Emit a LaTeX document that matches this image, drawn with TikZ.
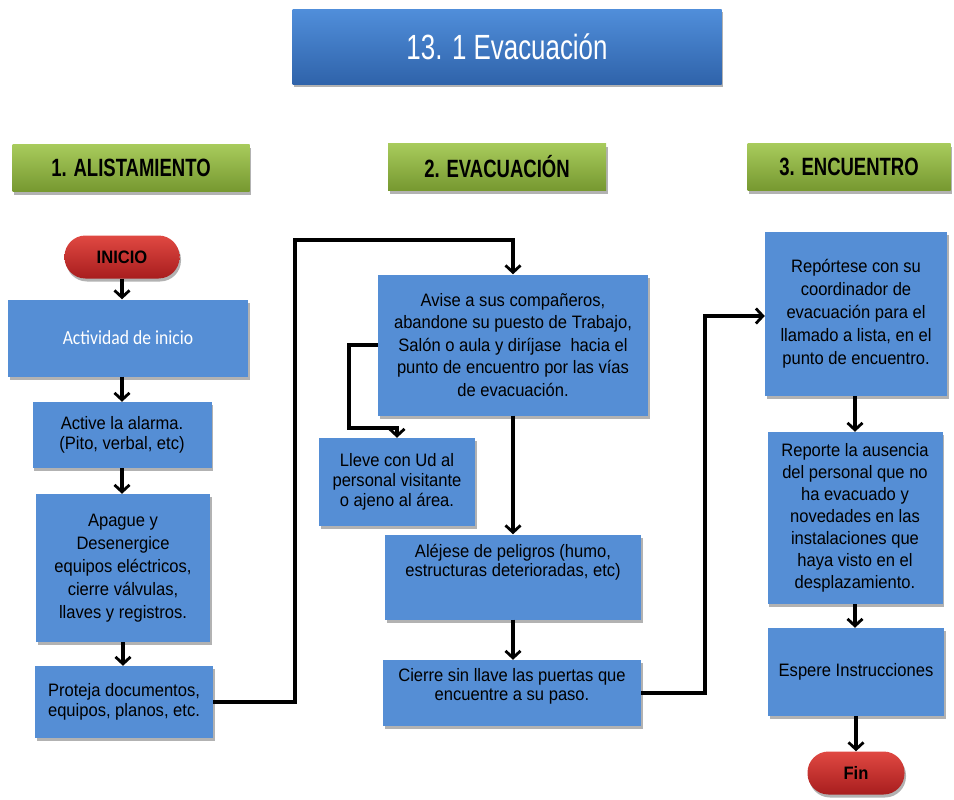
\documentclass[tikz,border=0pt]{standalone}
\usepackage{fontspec}
\setmainfont{Liberation Sans}[FakeStretch=0.92]
\newfontfamily\narrowfont{Liberation Sans}[FakeStretch=0.74]
\newfontfamily\calfont{Carlito}[FakeStretch=0.88]
\usepackage{tikz}
\usetikzlibrary{arrows.meta,shadows}

\definecolor{boxblue}{RGB}{85,142,213}
\definecolor{titletop}{RGB}{80,142,218}
\definecolor{titlebot}{RGB}{47,99,170}
\definecolor{greentop}{RGB}{168,203,92}
\definecolor{greenbot}{RGB}{118,152,48}
\definecolor{redtop}{RGB}{224,72,66}
\definecolor{redbot}{RGB}{168,30,30}

\begin{document}
\begin{tikzpicture}[
   x=1pt,y=-1pt,
   shade/.style={drop shadow={shadow xshift=1.5pt,shadow yshift=-3pt,fill=black!60,opacity=.5}},
   state/.style={shade,fill=boxblue,inner sep=2pt,align=center,
      font=\fontsize{18}{21.5}\selectfont},
   title/.style={shade,top color=titletop,bottom color=titlebot,text=white,
      minimum width=429pt,minimum height=75pt,font=\narrowfont\fontsize{35}{40}\selectfont},
   head/.style={shade,top color=greentop,bottom color=greenbot,minimum height=47pt,
      font=\narrowfont\bfseries\fontsize{25}{28}\selectfont},
   pill/.style={shade,rounded corners=21pt,top color=redtop,bottom color=redbot,
      minimum height=43pt,font=\bfseries\fontsize{18}{21}\selectfont},
   flow/.style={draw=black,line width=4pt,
      -{Straight Barb[length=7pt,width=15pt,line width=2.8pt]}}]
\useasboundingbox (0,0) rectangle (954,800);
% titles
\node[title] (titulo) at (507,47) {13. 1 Evacuación};
\node[head,minimum width=237pt] (alist) at (131,168) {1. ALISTAMIENTO};
\node[head,minimum width=218pt] (evac) at (497,167) {2. EVACUACIÓN};
\node[head,minimum width=203pt] (encu) at (849,167) {3. ENCUENTRO};
% 1. alistamiento
\node[pill,minimum width=115pt] (inicio) at (122,257) {INICIO};
\node[state,minimum width=240pt,minimum height=77pt,text=white,
   font=\calfont\fontsize{20}{24}\selectfont] (actividad) at (128,338) {Actividad de inicio};
\node[state,minimum width=179pt,minimum height=66pt,font=\fontsize{18}{20}\selectfont] (alarma) at (122,435)
   {Active la alarma.\\(Pito, verbal, etc)};
\node[state,minimum width=174pt,minimum height=148pt,font=\fontsize{18}{23}\selectfont] (apague) at (123,568)
   {Apague y\\Desenergice\\equipos eléctricos,\\cierre válvulas,\\llaves y registros.};
\node[state,minimum width=178pt,minimum height=72pt,font=\fontsize{18}{20}\selectfont] (proteja) at (124,702)
   {Proteja documentos,\\equipos, planos, etc.};
% 2. evacuacion
\node[state,minimum width=270pt,minimum height=141pt,font=\fontsize{18}{22.5}\selectfont] (avise) at (513,345)
   {Avise a sus compañeros,\\abandone su puesto de Trabajo,\\Salón o aula y diríjase\ \ hacia el\\punto de encuentro por las vías\\de evacuación.};
\node[state,minimum width=156pt,minimum height=88pt,font=\fontsize{18}{20}\selectfont] (lleve) at (397,482)
   {Lleve con Ud al\\personal visitante\\o ajeno al área.};
\node[state,minimum width=256pt,minimum height=85pt,font=\fontsize{18}{19}\selectfont] (alejese) at (513,577)
   {Aléjese de peligros (humo,\\estructuras deterioradas, etc)\\[8pt]\strut};
\node[state,minimum width=258pt,minimum height=66pt,font=\fontsize{18}{19}\selectfont] (cierre) at (512,693)
   {Cierre sin llave las puertas que\\encuentre a su paso.\\[-8pt]\strut};
% 3. encuentro
\node[state,minimum width=182pt,minimum height=164pt,font=\fontsize{18}{23}\selectfont] (reportese) at (856,314)
   {Repórtese con su\\coordinador de\\evacuación para el\\llamado a lista, en el\\punto de encuentro.};
\node[state,minimum width=175pt,minimum height=172pt,font=\fontsize{18}{22}\selectfont] (reporte) at (855,518)
   {Reporte la ausencia\\del personal que no\\ha evacuado y\\novedades en las\\instalaciones que\\haya visto en el\\desplazamiento.};
\node[state,minimum width=176pt,minimum height=88pt] (espere) at (856,672) {Espere Instrucciones};
\node[pill,minimum width=97pt] (fin) at (856,773) {Fin};
% bends
\coordinate (k1) at (295,240);
\coordinate (k2) at (349,428);
\coordinate (k3) at (705,316);
% connectors
\draw[flow] (inicio.south) -- (inicio.south |- actividad.north);
\draw[flow] (alarma.north |- actividad.south) -- (alarma.north);
\draw[flow] (alarma.south) -- (alarma.south |- apague.north);
\draw[flow] (apague.south) -- (apague.south |- proteja.north);
\draw[flow] (proteja.east) -| (k1) -| (avise.north);
\draw[flow] (avise.west) -| (k2) -| (lleve.north);
\draw[flow] (avise.south) -- (avise.south |- alejese.north);
\draw[flow] (alejese.south) -- (alejese.south |- cierre.north);
\draw[flow] (cierre.east) -| (k3) -- (k3 -| reportese.west);
\draw[flow] (reportese.south -| reporte.north) -- (reporte.north);
\draw[flow] (reporte.south) -- (reporte.south |- espere.north);
\draw[flow] (espere.south) -- (espere.south |- fin.north);
\end{tikzpicture}
\end{document}
